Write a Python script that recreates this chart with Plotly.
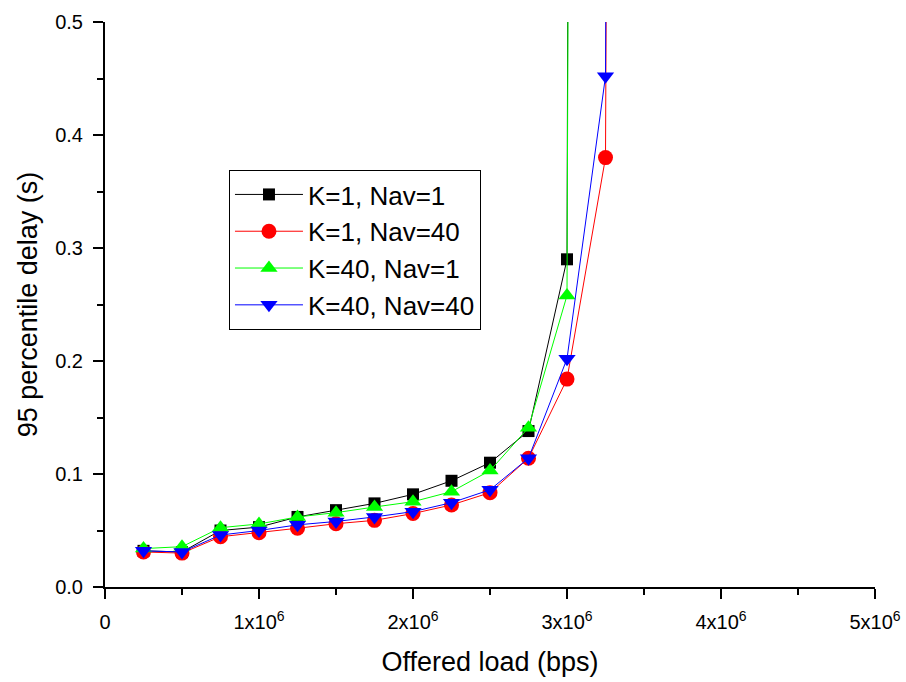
import plotly.graph_objects as go

x_a = [0.25e6, 0.5e6, 0.75e6, 1.0e6, 1.25e6, 1.5e6, 1.75e6, 2.0e6, 2.25e6, 2.5e6, 2.75e6, 3.0e6, 3.25e6]
x_b = [0.25e6, 0.5e6, 0.75e6, 1.0e6, 1.25e6, 1.5e6, 1.75e6, 2.0e6, 2.25e6, 2.5e6, 2.75e6, 3.0e6, 3.25e6, 3.5e6]

k1_nav1 = [0.032, 0.031, 0.050, 0.053, 0.062, 0.068, 0.074, 0.082, 0.094, 0.110, 0.138, 0.290, 12.0]
k1_nav40 = [0.031, 0.030, 0.0445, 0.048, 0.052, 0.056, 0.059, 0.065, 0.0726, 0.0835, 0.114, 0.184, 0.380, 8.0]
k40_nav1 = [0.034, 0.0357, 0.0525, 0.0558, 0.062, 0.0658, 0.0708, 0.0755, 0.0844, 0.103, 0.141, 0.258, 10.0]
k40_nav40 = [0.032, 0.031, 0.046, 0.050, 0.055, 0.058, 0.062, 0.0667, 0.0746, 0.086, 0.114, 0.202, 0.452, 9.0]

x_tickvals = [0, 1e6, 2e6, 3e6, 4e6, 5e6]
x_ticktext = ["0", "1x10<sup>6</sup>", "2x10<sup>6</sup>", "3x10<sup>6</sup>", "4x10<sup>6</sup>", "5x10<sup>6</sup>"]
y_tickvals = [0.0, 0.1, 0.2, 0.3, 0.4, 0.5]
y_ticktext = ["0.0", "0.1", "0.2", "0.3", "0.4", "0.5"]

series = [
    ("K=1, Nav=1", x_a, k1_nav1, "black", "square", 12),
    ("K=1, Nav=40", x_b, k1_nav40, "red", "circle", 15),
    ("K=40, Nav=1", x_a, k40_nav1, "#00ff00", "triangle-up", 15),
    ("K=40, Nav=40", x_b, k40_nav40, "blue", "triangle-down", 15),
]

fig = go.Figure()
for name, xs, ys, col, sym, sz in series:
    fig.add_trace(go.Scatter(
        x=xs, y=ys, name=name, mode="lines+markers",
        line=dict(color=col, width=1),
        marker=dict(color=col, symbol=sym, size=sz, line=dict(width=0)),
    ))

fig.update_layout(
    width=906, height=682,
    margin=dict(l=105, r=31, t=22, b=95),
    paper_bgcolor="white", plot_bgcolor="white",
    font=dict(family="Liberation Sans, Arial, sans-serif", color="black", size=20),
    showlegend=True,
    legend=dict(
        x=0.161, y=0.738, xanchor="left", yanchor="top",
        bordercolor="black", borderwidth=1, bgcolor="white",
        font=dict(size=26, family="Liberation Sans, Arial, sans-serif"),
        itemsizing="trace", tracegroupgap=0, itemwidth=68,
    ),
    xaxis=dict(
        range=[0, 5e6], showgrid=False, zeroline=False, automargin=False,
        showline=True, linecolor="black", linewidth=2,
        ticks="outside", ticklen=10, tickwidth=2, tickcolor="black",
        tickvals=x_tickvals, ticktext=x_ticktext, ticklabelstandoff=6,
        tickfont=dict(size=20),
        minor=dict(ticks="outside", ticklen=6, tickwidth=2, tickcolor="black", dtick=0.5e6, tick0=0, showgrid=False),
        title=dict(text="Offered load (bps)", standoff=20, font=dict(size=27)),
    ),
    yaxis=dict(
        range=[0, 0.5], showgrid=False, zeroline=False, automargin=False,
        showline=True, linecolor="black", linewidth=2,
        ticks="outside", ticklen=10, tickwidth=2, tickcolor="black",
        tickvals=y_tickvals, ticktext=y_ticktext, ticklabelstandoff=6,
        minor=dict(ticks="outside", ticklen=6, tickwidth=2, tickcolor="black", dtick=0.05, tick0=0, showgrid=False),
        title=dict(text="95 percentile delay (s)", standoff=10, font=dict(size=27)),
    ),
)

fig.write_html("out.html")
